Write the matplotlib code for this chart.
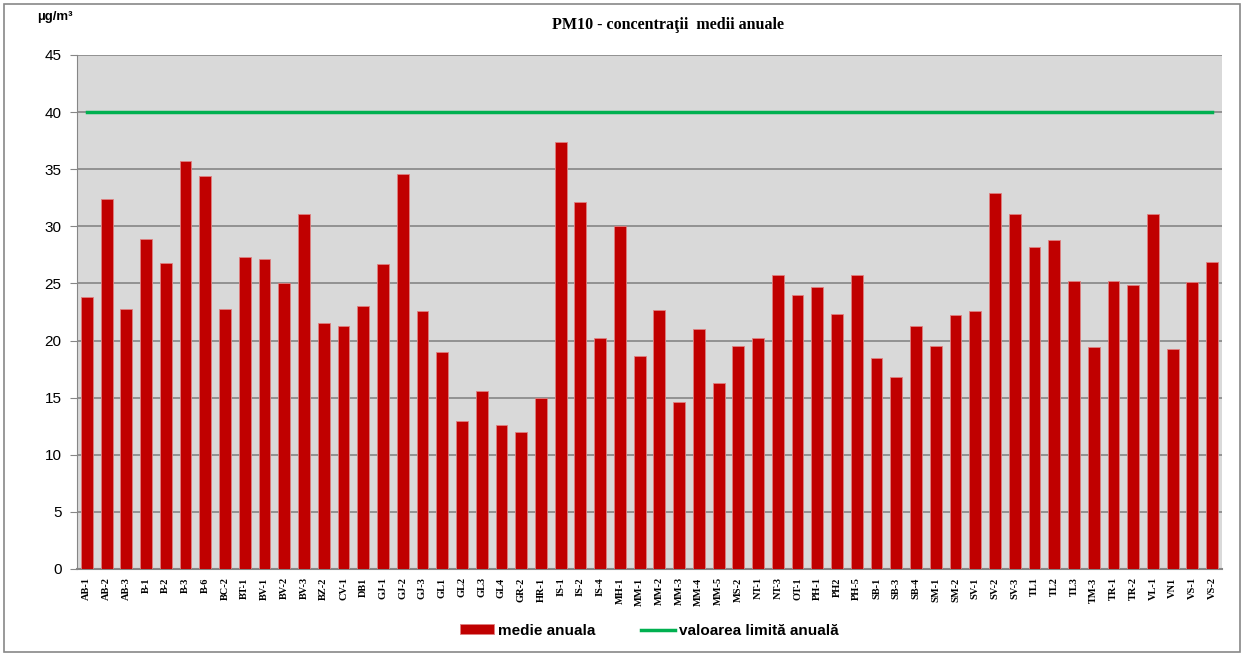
import numpy as np
import matplotlib
matplotlib.use("Agg")
import matplotlib.pyplot as plt
from matplotlib.patches import Rectangle

stations = ["AB-1", "AB-2", "AB-3", "B-1", "B-2", "B-3", "B-6", "BC-2", "BT-1", "BV-1",
            "BV-2", "BV-3", "BZ-2", "CV-1", "DB1", "GJ-1", "GJ-2", "GJ-3", "GL1", "GL2",
            "GL3", "GL4", "GR-2", "HR-1", "IS-1", "IS-2", "IS-4", "MH-1", "MM-1", "MM-2",
            "MM-3", "MM-4", "MM-5", "MS-2", "NT-1", "NT-3", "OT-1", "PH-1", "PH2", "PH-5",
            "SB-1", "SB-3", "SB-4", "SM-1", "SM-2", "SV-1", "SV-2", "SV-3", "TL1", "TL2",
            "TL3", "TM-3", "TR-1", "TR-2", "VL-1", "VN1", "VS-1", "VS-2"]
medie = [23.8, 32.4, 22.8, 28.9, 26.8, 35.7, 34.4, 22.8, 27.3, 27.1,
         25.0, 31.1, 21.5, 21.3, 23.05, 26.7, 34.6, 22.6, 19.0, 13.0,
         15.55, 12.6, 12.0, 14.95, 37.35, 32.15, 20.2, 30.0, 18.65, 22.65,
         14.65, 21.0, 16.3, 19.55, 20.2, 25.7, 23.95, 24.65, 22.3, 25.7,
         18.45, 16.8, 21.3, 19.5, 22.2, 22.55, 32.9, 31.05, 28.2, 28.8,
         25.2, 19.4, 25.2, 24.85, 31.05, 19.3, 25.1, 26.85]
limita = 40

fig = plt.figure(figsize=(12.44, 6.56), dpi=100)
fig.patches.append(Rectangle((0.003, 0.006), 0.994, 0.988, transform=fig.transFigure,
                             fill=False, edgecolor="#888888", linewidth=1.2))
ax = fig.add_axes([77/1244, 1 - 569/656, (1222-77)/1244, (569-55)/656])
ax.set_facecolor("#D9D9D9")

x = np.arange(len(stations))
bars = ax.bar(x, medie, width=0.6, color="#C00000", edgecolor="#E08080", linewidth=0.6,
              label="medie anuala", zorder=3)
line, = ax.plot([x[0], x[-1]], [limita, limita], color="#00B050", linewidth=2.5,
                label="valoarea limită anuală", zorder=4)

ax.set_xlim(-0.5, len(stations) - 0.5)
ax.set_ylim(0, 45)
ax.set_yticks(range(0, 46, 5))
ax.yaxis.grid(True, color="#868686", linewidth=1.2, zorder=0)
ax.set_axisbelow(True)
ax.tick_params(axis="y", labelsize=11, length=5, color="#868686", pad=6)
ax.set_xticks(x)
ax.set_xticklabels(stations, rotation=90, fontsize=7.5, fontweight="bold",
                   family="Liberation Serif")
ax.tick_params(axis="x", length=0, pad=6)
for lbl in ax.get_yticklabels():
    lbl.set_family("Liberation Sans")
for s in ["top", "right"]:
    ax.spines[s].set_visible(False)
ax.spines["left"].set_color("#868686")
ax.spines["bottom"].set_color("#868686")
ax.spines["bottom"].set_linewidth(1.5)

fig.text(668/1244, 1 - 25/656, "PM10 - concentraţii  medii anuale", ha="center", va="center",
         fontsize=11.5, fontweight="bold", family="Liberation Serif")
fig.text(37/1244, 1 - 17/656, "µg/m³", ha="left", va="center", fontsize=9.5,
         fontweight="bold", family="Liberation Sans")

ax.legend([bars, line], ["medie anuala", "valoarea limită anuală"],
          loc="center", bbox_to_anchor=(0.5, -0.12), ncol=2, frameon=False,
          prop={"family": "Liberation Sans", "weight": "bold", "size": 11},
          handlelength=2.2, handleheight=0.6, columnspacing=3, handletextpad=0.3)

plt.savefig("out.png", dpi=100)
